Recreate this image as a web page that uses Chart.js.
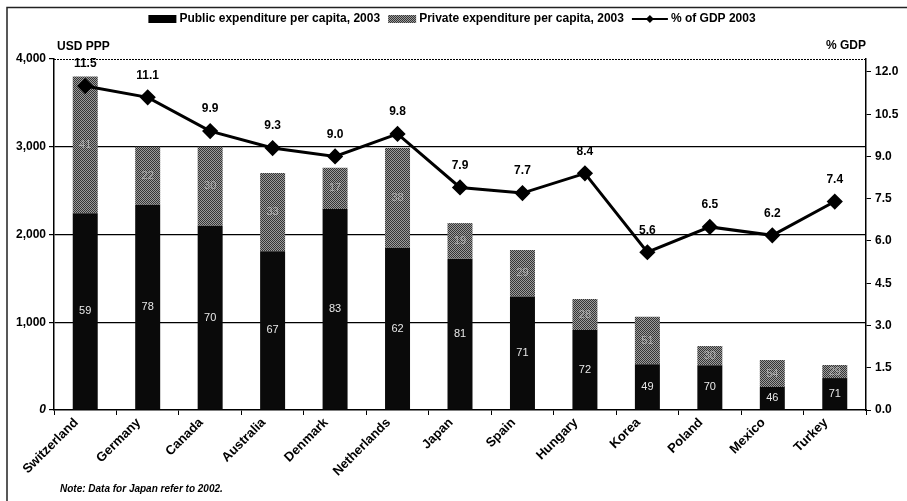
<!DOCTYPE html>
<html>
<head>
<meta charset="utf-8">
<script src="https://cdn.jsdelivr.net/npm/chart.js@4.4.1/dist/chart.umd.min.js"></script>
<style>
  html, body { margin: 0; padding: 0; background: #fff; }
  #wrap { width: 907px; height: 501px; position: relative; }
</style>
</head>
<body>
<div id="wrap"><canvas id="mycanvas"></canvas></div>
<script>
// data
var countries = ['Switzerland', 'Germany', 'Canada', 'Australia', 'Denmark', 'Netherlands', 'Japan',
  'Spain', 'Hungary', 'Korea', 'Poland', 'Mexico', 'Turkey'];
var publicSpend = [2242, 2340, 2100, 1810, 2290, 1850, 1725, 1294, 911, 521, 510, 262, 364];
var privateSpend = [1558, 660, 900, 890, 470, 1135, 405, 529, 354, 542, 219, 308, 149];
var publicShare = [59, 78, 70, 67, 83, 62, 81, 71, 72, 49, 70, 46, 71];
var privateShare = [41, 22, 30, 33, 17, 38, 19, 29, 28, 51, 30, 54, 29];
var gdpShare = [11.5, 11.1, 9.9, 9.3, 9.0, 9.8, 7.9, 7.7, 8.4, 5.6, 6.5, 6.2, 7.4];
var leftTicks = [0, 1000, 2000, 3000, 4000];
var rightTicks = [0, 1.5, 3, 4.5, 6, 7.5, 9, 10.5, 12];

var FONT = 'Arial, "Liberation Sans", sans-serif';

// dithered grey like the scanned original
function makePattern(){
  var c = document.createElement('canvas');
  c.width = 2; c.height = 2;
  var g = c.getContext('2d');
  g.fillStyle = '#9c9c9c'; g.fillRect(0, 0, 2, 2);
  g.fillStyle = '#353535'; g.fillRect(0, 0, 1, 1); g.fillRect(1, 1, 1, 1);
  return g.createPattern(c, 'repeat');
}
var greyPattern = makePattern();

function diamond(ctx, x, y, r){
  ctx.beginPath();
  ctx.moveTo(x, y - r); ctx.lineTo(x + r, y); ctx.lineTo(x, y + r); ctx.lineTo(x - r, y);
  ctx.closePath(); ctx.fill();
}

var extras = {
  id: 'extras',
  beforeDraw: function(chart){
    var ctx = chart.ctx;
    ctx.save();
    // scan frame (top and left only)
    ctx.strokeStyle = '#222'; ctx.lineWidth = 1.5;
    ctx.beginPath(); ctx.moveTo(7, 907); ctx.lineTo(7, 7.5); ctx.lineTo(907, 7.5); ctx.stroke();
    // dotted top of plot area
    var a = chart.chartArea;
    ctx.strokeStyle = '#000'; ctx.lineWidth = 1; ctx.setLineDash([2, 1]);
    ctx.beginPath(); ctx.moveTo(a.left, a.top + 0.5); ctx.lineTo(a.right, a.top + 0.5); ctx.stroke();
    ctx.setLineDash([]);
    ctx.restore();
  },
  afterDatasetsDraw: function(chart){
    var ctx = chart.ctx;
    ctx.save();
    ctx.textAlign = 'center'; ctx.textBaseline = 'middle';
    // shares inside the bars
    ctx.font = '11px ' + FONT;
    chart.getDatasetMeta(0).data.forEach(function(el, i){
      ctx.fillStyle = '#e8e8e8';
      ctx.fillText(publicShare[i], el.x, (el.y + el.base) / 2);
    });
    chart.getDatasetMeta(1).data.forEach(function(el, i){
      ctx.fillStyle = 'rgba(215,215,215,0.6)';
      ctx.fillText(privateShare[i], el.x, (el.y + el.base) / 2);
    });
    // % of GDP labels
    ctx.font = 'bold 12px ' + FONT;
    ctx.fillStyle = '#000';
    chart.getDatasetMeta(2).data.forEach(function(el, i){
      ctx.fillText(gdpShare[i].toFixed(1), el.x, el.y - 22);
    });
    ctx.restore();
  },
  afterDraw: function(chart){
    var ctx = chart.ctx;
    var a = chart.chartArea;
    ctx.save();
    ctx.fillStyle = '#000';
    ctx.textBaseline = 'middle';
    // axis titles
    ctx.font = 'bold 12px ' + FONT;
    ctx.textAlign = 'left';
    ctx.fillText('USD PPP', 57, 47);
    ctx.textAlign = 'right';
    ctx.fillText('% GDP', a.right, 46);
    // note
    ctx.font = 'italic bold 10px ' + FONT;
    ctx.textAlign = 'left';
    ctx.fillText('Note: Data for Japan refer to 2002.', 60, 489);

    // legend
    var labels = chart.data.datasets.map(function(d){ return d.label; });
    ctx.font = 'bold 12px ' + FONT;
    var boxW = 28, lineW = 36, gapText = 3, gapItem = 8;
    var w = [boxW, boxW, lineW].reduce(function(s, bw, i){
      return s + bw + gapText + ctx.measureText(labels[i]).width + (i < 2 ? gapItem : 0);
    }, 0);
    var x = 452 - w / 2, y = 19;
    for (var i = 0; i < 3; i++){
      if (i < 2){
        ctx.fillStyle = i === 0 ? '#000' : greyPattern;
        ctx.fillRect(x, y - 4, boxW, 8);
        x += boxW;
      } else {
        ctx.strokeStyle = '#000'; ctx.lineWidth = 2;
        ctx.beginPath(); ctx.moveTo(x, y); ctx.lineTo(x + lineW, y); ctx.stroke();
        ctx.fillStyle = '#000';
        diamond(ctx, x + lineW / 2, y, 4);
        x += lineW;
      }
      x += gapText;
      ctx.fillStyle = '#000';
      ctx.fillText(labels[i], x, y);
      x += ctx.measureText(labels[i]).width + gapItem;
    }
    ctx.restore();
  }
};

var ctx = document.getElementById('mycanvas');
var chart = new Chart(ctx, {
  type: 'bar',
  data: {
    labels: countries,
    datasets: [
      { label: 'Public expenditure per capita, 2003', data: publicSpend, backgroundColor: '#0a0a0a',
        yAxisID: 'y', order: 2, barPercentage: 0.8, categoryPercentage: 0.5 },
      { label: 'Private expenditure per capita, 2003', data: privateSpend, backgroundColor: greyPattern,
        yAxisID: 'y', order: 2, barPercentage: 0.8, categoryPercentage: 0.5 },
      { type: 'line', label: '% of GDP 2003', data: gdpShare, yAxisID: 'y2', order: 0,
        borderColor: '#000', borderWidth: 3, tension: 0,
        pointStyle: 'rectRot', pointRadius: 6, pointBackgroundColor: '#000', pointBorderColor: '#000' }
    ]
  },
  options: {
    responsive: true,
    maintainAspectRatio: false,
    animation: false,
    layout: { padding: { top: 59, left: 0, right: 0, bottom: 0 } },
    plugins: { legend: { display: false }, tooltip: { enabled: false } },
    scales: {
      x: {
        stacked: true,
        grid: { drawOnChartArea: false, drawTicks: true, tickLength: 5, color: '#000', offset: true },
        border: { color: '#000', width: 1.5 },
        ticks: { color: '#000', font: { family: FONT, size: 13, weight: 'bold' },
          minRotation: 45, maxRotation: 45, padding: 0, autoSkip: false, labelOffset: -9 },
        afterFit: function(s){ s.height = 91; }
      },
      y: {
        stacked: true, position: 'left', min: 0, max: 4000,
        afterBuildTicks: function(s){ s.ticks = leftTicks.map(function(v){ return { value: v }; }); },
        grid: {
          color: function(c){ return (c.tick && (c.tick.value === 0 || c.tick.value === 4000)) ? 'rgba(0,0,0,0)' : '#000'; },
          tickColor: '#000', tickLength: 5, lineWidth: 1.2
        },
        border: { color: '#000', width: 1.5 },
        ticks: {
          color: '#000', padding: 3,
          font: function(c){ return { family: FONT, size: 12, weight: 'bold', style: (c.tick && c.tick.value === 0) ? 'italic' : 'normal' }; },
          callback: function(v){ return v.toLocaleString('en-US'); }
        },
        afterFit: function(s){ s.width = 54; }
      },
      y2: {
        position: 'right', min: 0, max: 12.46,
        afterBuildTicks: function(s){ s.ticks = rightTicks.map(function(v){ return { value: v }; }); },
        grid: { drawOnChartArea: false, tickColor: '#000', tickLength: 5 },
        border: { color: '#000', width: 1.5 },
        ticks: { color: '#000', padding: 4, font: { family: FONT, size: 12, weight: 'bold' },
          callback: function(v){ return v.toFixed(1); } },
        afterFit: function(s){ s.width = 41; }
      }
    }
  },
  plugins: [extras]
});
</script>
</body>
</html>
